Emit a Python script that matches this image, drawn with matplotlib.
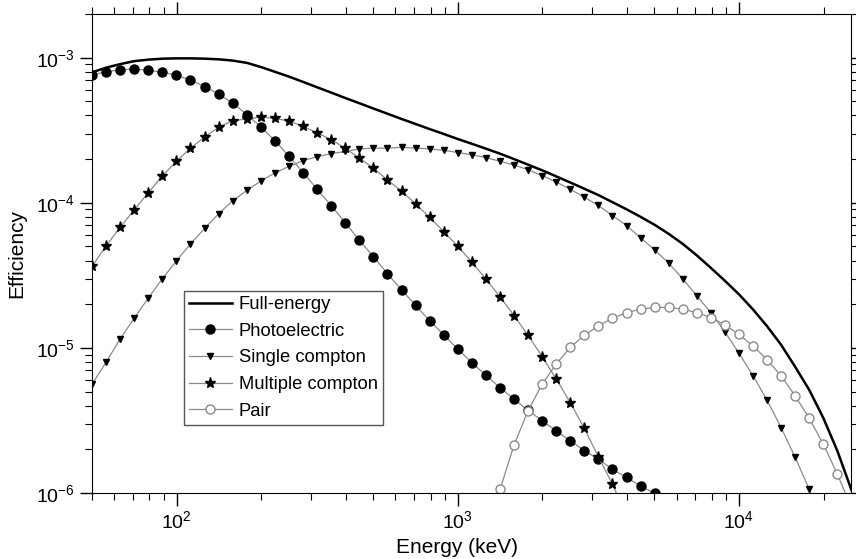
import numpy as np
import matplotlib
matplotlib.use("Agg")
import matplotlib.pyplot as plt

plt.rcParams['font.family'] = ['Liberation Sans', 'DejaVu Sans']
plt.rcParams['mathtext.default'] = 'regular'

energy = [50, 56.1, 62.9, 70.6, 79.2, 88.9, 99.8, 112, 126, 141, 158, 178, 200,
          224, 251, 282, 316, 355, 398, 447, 501, 562, 631, 708, 794, 891, 1000,
          1122, 1259, 1413, 1585, 1778, 1995, 2239, 2512, 2818, 3162, 3548, 3981,
          4467, 5012, 5623, 6310, 7079, 7943, 8913, 10000, 11220, 12589, 14125,
          15849, 17783, 19953, 22387, 25119]

full_energy = [7.92e-4, 8.53e-4, 9.02e-4, 9.46e-4, 9.69e-4, 9.84e-4, 9.89e-4, 9.89e-4,
               9.84e-4, 9.74e-4, 9.55e-4, 9.20e-4, 8.60e-4, 7.98e-4, 7.40e-4, 6.80e-4,
               6.25e-4, 5.74e-4, 5.27e-4, 4.85e-4, 4.46e-4, 4.11e-4, 3.78e-4, 3.49e-4,
               3.22e-4, 2.98e-4, 2.75e-4, 2.55e-4, 2.36e-4, 2.18e-4, 2.00e-4, 1.83e-4,
               1.675e-4, 1.52e-4, 1.38e-4, 1.25e-4, 1.13e-4, 1.01e-4, 9.02e-5, 8.00e-5,
               7.05e-5, 6.11e-5, 5.21e-5, 4.34e-5, 3.56e-5, 2.90e-5, 2.34e-5, 1.84e-5,
               1.41e-5, 1.05e-5, 7.40e-6, 5.13e-6, 3.29e-6, 1.95e-6, 1.05e-6]

photoelectric = [7.64e-4, 7.97e-4, 8.27e-4, 8.36e-4, 8.17e-4, 7.97e-4, 7.55e-4, 7.02e-4,
                 6.31e-4, 5.62e-4, 4.87e-4, 4.05e-4, 3.31e-4, 2.67e-4, 2.09e-4, 1.61e-4,
                 1.24e-4, 9.53e-5, 7.28e-5, 5.50e-5, 4.26e-5, 3.24e-5, 2.51e-5, 1.96e-5,
                 1.54e-5, 1.23e-5, 9.80e-6, 7.92e-6, 6.48e-6, 5.32e-6, 4.43e-6, 3.71e-6,
                 3.15e-6, 2.68e-6, 2.29e-6, 1.96e-6, 1.71e-6, 1.46e-6, 1.28e-6, 1.12e-6,
                 9.95e-7]

single_compton = [5.62e-6, 7.97e-6, 1.15e-5, 1.60e-5, 2.20e-5, 2.99e-5, 3.98e-5, 5.21e-5,
                  6.69e-5, 8.40e-5, 1.03e-4, 1.22e-4, 1.42e-4, 1.61e-4, 1.78e-4, 1.95e-4,
                  2.08e-4, 2.18e-4, 2.26e-4, 2.35e-4, 2.38e-4, 2.38e-4, 2.41e-4, 2.38e-4,
                  2.35e-4, 2.30e-4, 2.22e-4, 2.14e-4, 2.05e-4, 1.93e-4, 1.82e-4, 1.69e-4,
                  1.54e-4, 1.39e-4, 1.24e-4, 1.09e-4, 9.58e-5, 8.17e-5, 6.97e-5, 5.74e-5,
                  4.74e-5, 3.84e-5, 2.99e-5, 2.29e-5, 1.75e-5, 1.29e-5, 9.19e-6, 6.44e-6,
                  4.36e-6, 2.82e-6, 1.76e-6, 1.06e-6, 6.0e-7]

multiple_compton = [3.64e-5, 5.05e-5, 6.76e-5, 8.95e-5, 1.17e-4, 1.53e-4, 1.93e-4, 2.38e-4,
                    2.85e-4, 3.31e-4, 3.68e-4, 3.78e-4, 3.90e-4, 3.81e-4, 3.66e-4, 3.36e-4,
                    3.03e-4, 2.72e-4, 2.37e-4, 2.03e-4, 1.73e-4, 1.44e-4, 1.20e-4, 9.84e-5,
                    7.92e-5, 6.34e-5, 5.00e-5, 3.90e-5, 2.98e-5, 2.25e-5, 1.67e-5, 1.22e-5,
                    8.71e-6, 6.11e-6, 4.20e-6, 2.79e-6, 1.78e-6, 1.15e-6, 7.0e-7]

# pair production starts at 1413 keV
pair_energy = energy[29:]
pair = [1.06e-6, 2.14e-6, 3.70e-6, 5.62e-6, 7.76e-6, 1.01e-5, 1.22e-5, 1.42e-5,
        1.60e-5, 1.75e-5, 1.85e-5, 1.90e-5, 1.90e-5, 1.85e-5, 1.75e-5, 1.62e-5,
        1.44e-5, 1.24e-5, 1.03e-5, 8.30e-6, 6.41e-6, 4.67e-6, 3.27e-6, 2.17e-6,
        1.35e-6, 7.9e-7]

gray = '#8a8a8a'

fig = plt.figure(figsize=(8.56, 5.59), dpi=100)
ax = fig.add_axes([0.1075, 0.118, 0.8865, 0.857])

ax.plot(energy, full_energy, color='black', lw=1.8, label='Full-energy')
ax.plot(energy[:len(photoelectric)], photoelectric, color=gray, lw=0.9, marker='o',
        ms=6.5, mfc='black', mec='black', label='Photoelectric')
ax.plot(energy[:len(single_compton)], single_compton, color=gray, lw=0.9, marker='v',
        ms=4.5, mfc='black', mec='black', label='Single compton')
ax.plot(energy[:len(multiple_compton)], multiple_compton, color=gray, lw=0.9, marker='*',
        ms=8, mfc='black', mec='black', label='Multiple compton')
ax.plot(pair_energy, pair, color=gray, lw=0.9, marker='o', ms=6.5, mfc='white',
        mec=gray, mew=1.0, label='Pair')

ax.set_xscale('log')
ax.set_yscale('log')
ax.set_xlim(50, 25000)
ax.set_ylim(1e-6, 2e-3)

ax.tick_params(which='both', direction='out', top=True, right=True, labelsize=14)
ax.tick_params(which='major', length=9, width=1)
ax.tick_params(which='minor', length=5, width=0.8)
ax.xaxis.set_minor_formatter(matplotlib.ticker.NullFormatter())
ax.yaxis.set_minor_formatter(matplotlib.ticker.NullFormatter())

ax.set_xlabel('Energy (keV)', fontsize=15)
ax.xaxis.set_label_coords(0.481, -0.094)
ax.set_ylabel('Efficiency', fontsize=15)
ax.yaxis.set_label_coords(-0.087, 0.5)

leg = ax.legend(loc='upper left', bbox_to_anchor=(0.121, 0.422), borderaxespad=0,
                fontsize=13.2, fancybox=False, framealpha=1, edgecolor='#555555',
                handlelength=2.3, labelspacing=0.52, borderpad=0.3, handletextpad=0.4)
leg.get_frame().set_linewidth(1.0)

fig.savefig('out.png', dpi=100)
